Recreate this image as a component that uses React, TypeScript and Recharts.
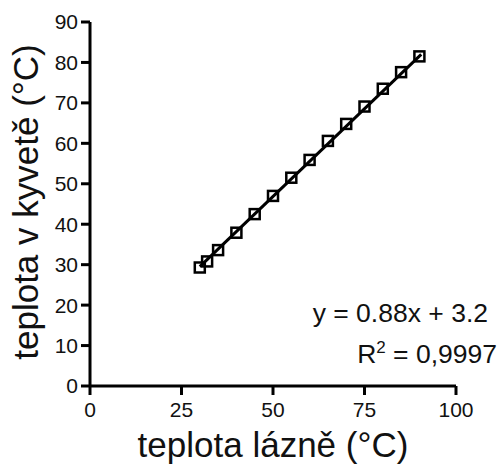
import { ScatterChart, Scatter, XAxis, YAxis } from "recharts";

const bathTemp = [30, 32, 35, 40, 45, 50, 55, 60, 65, 70, 75, 80, 85, 90];
const cuvetteTemp = [29.3, 30.8, 33.6, 37.9, 42.5, 47.0, 51.5, 55.9, 60.6, 64.8, 69.1, 73.5, 77.6, 81.5];
const fitX = [30, 90.5];
const fitY = [29.5, 82];
const xTicks = [0, 25, 50, 75, 100];
const yTicks = [0, 10, 20, 30, 40, 50, 60, 70, 80, 90];

const points = bathTemp.map((x, i) => ({ x, y: cuvetteTemp[i] }));
const fitLine = fitX.map((x, i) => ({ x, y: fitY[i] }));

const font = "'Liberation Sans', Arial, sans-serif";

const SquareMark = (props: any) => {
  const { cx, cy } = props;
  return (
    <rect x={cx - 5} y={cy - 5} width={10} height={10} fill="none" stroke="#000" strokeWidth={2.5} />
  );
};

export default function App() {
  return (
    <div style={{ position: "absolute", left: 0, top: 0, background: "#fff" }}>
      <ScatterChart
        width={502}
        height={466}
        margin={{ top: 22, right: 46, bottom: 0, left: 0 }}
        style={{ fontFamily: font }}
      >
        <XAxis
          type="number"
          dataKey="x"
          domain={[0, 100]}
          ticks={xTicks}
          height={80}
          stroke="#000"
          strokeWidth={3}
          tickSize={9}
          tick={{ fill: "#111", fontSize: 21, dy: 5 }}
          label={({ viewBox }: any) => (
            <text
              x={viewBox.x + viewBox.width / 2}
              y={457}
              textAnchor="middle"
              fontSize={35}
              fill="#111"
              fontFamily={font}
            >
              teplota lázně (°C)
            </text>
          )}
        />
        <YAxis
          type="number"
          dataKey="y"
          domain={[0, 90]}
          ticks={yTicks}
          width={90}
          stroke="#000"
          strokeWidth={3}
          tickSize={9}
          tick={{ fill: "#111", fontSize: 21, dx: -1 }}
          label={({ viewBox }: any) => {
            const cx = 38;
            const cy = viewBox.y + viewBox.height / 2 - 2;
            return (
              <text
                x={cx}
                y={cy}
                transform={`rotate(-90 ${cx} ${cy})`}
                textAnchor="middle"
                fontSize={35}
                fill="#111"
                fontFamily={font}
              >
                teplota v kyvetě (°C)
              </text>
            );
          }}
        />
        <Scatter
          data={fitLine}
          line={{ stroke: "#000", strokeWidth: 3 }}
          lineType="joint"
          shape={() => <g />}
          isAnimationActive={false}
        />
        <Scatter data={points} shape={SquareMark} isAnimationActive={false} />
        <text x={488} y={322} textAnchor="end" fontSize={26.5} fill="#111" fontFamily={font}>
          y = 0.88x + 3.2
        </text>
        <text x={497} y={363} textAnchor="end" fontSize={26.5} fill="#111" fontFamily={font}>
          R<tspan dy={-10} fontSize={17}>2</tspan>
          <tspan dy={10}> = 0,9997</tspan>
        </text>
      </ScatterChart>
    </div>
  );
}
